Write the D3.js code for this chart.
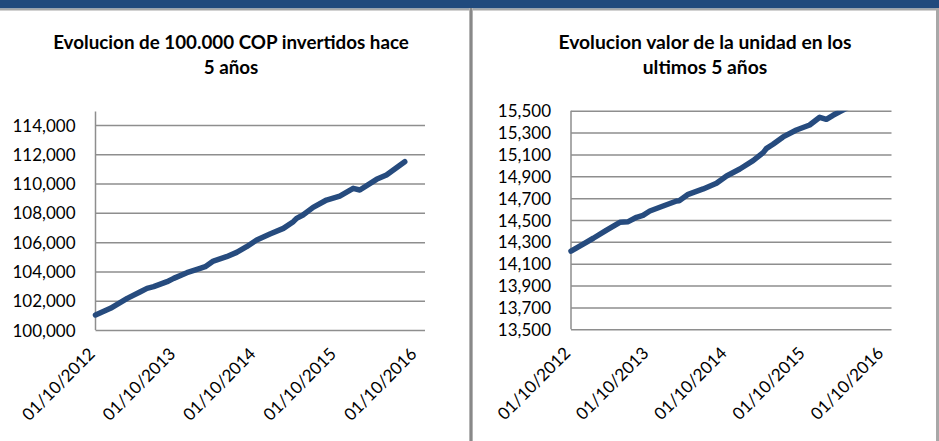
<!DOCTYPE html>
<html><head><meta charset="utf-8">
<script src="https://cdn.jsdelivr.net/npm/d3@7"></script>
<style>
html,body{margin:0;padding:0;background:#fff;}
svg{display:block;}
text{font-family:Lato,"Open Sans",sans-serif;fill:#000;}
</style></head>
<body>
<svg id="c" width="939" height="441"></svg>
<script>
// ---- DATA ----
const xTickLabels = ["01/10/2012","01/10/2013","01/10/2014","01/10/2015","01/10/2016"];
const leftTitle = ["Evolucion de 100.000 COP invertidos hace","5 años"];
const rightTitle = ["Evolucion valor de la unidad en los","ultimos 5 años"];
const leftYTicks = [100000,102000,104000,106000,108000,110000,112000,114000];
const rightYTicks = [13500,13700,13900,14100,14300,14500,14700,14900,15100,15300,15500];

const leftDates = ["2012-10-01","2012-12-08","2013-02-22","2013-04-23","2013-05-23","2013-06-22","2013-08-22","2013-09-21","2013-11-20","2014-01-19","2014-02-11","2014-03-20","2014-05-19","2014-07-04","2014-08-18","2014-10-03","2014-12-02","2015-02-01","2015-03-18","2015-04-02","2015-05-01","2015-06-16","2015-08-16","2015-10-15","2015-12-15","2016-01-14","2016-03-30","2016-05-14","2016-08-05"];
const leftValues = [101024,101480,102160,102616,102844,102958,103300,103527,103914,104210,104323,104711,105006,105302,105688,106146,106555,106942,107397,107625,107852,108376,108876,109149,109672,109560,110289,110583,111491];

const rightDates = ["2012-10-01","2012-11-27","2013-01-13","2013-03-16","2013-05-17","2013-06-25","2013-08-03","2013-09-02","2013-10-04","2013-12-05","2014-02-06","2014-02-18","2014-04-01","2014-06-10","2014-08-11","2014-09-27","2014-11-28","2015-01-29","2015-03-17","2015-04-02","2015-05-02","2015-06-18","2015-08-19","2015-10-20","2015-12-06","2016-01-06","2016-02-06","2016-03-23","2016-05-14","2016-08-05"];
const rightValues = [14216,14280,14333,14408,14479,14485,14525,14543,14582,14628,14674,14676,14735,14784,14836,14903,14967,15043,15116,15156,15193,15260,15323,15369,15440,15421,15458,15505,15560,15690];

// ---- DRAW ----
const svg = d3.select("#c");
const parse = d3.timeParse("%Y-%m-%d");
const parseTick = d3.timeParse("%d/%m/%Y");
const fmt = d3.format(",");
const blue = "#264b7e";
const grid = "#8e8e8e";

// frame
svg.append("rect").attr("x",0).attr("y",0).attr("width",939).attr("height",8.5).attr("fill","#214a7d");
svg.append("rect").attr("x",0).attr("y",8.5).attr("width",939).attr("height",2).attr("fill","#a6a6a6");
svg.append("rect").attr("x",469).attr("y",8).attr("width",4).attr("height",433).attr("fill","#b4b4b4");
svg.append("rect").attr("x",470.2).attr("y",8).attr("width",1.6).attr("height",433).attr("fill","#7f7f7f");
svg.append("rect").attr("x",936).attr("y",8).attr("width",3).attr("height",433).attr("fill","#a8a8a8");

function chart(cfg){
  const g = svg.append("g");
  const x = d3.scaleTime().domain([parse("2012-10-01"), parse("2016-11-05")]).range([cfg.x0, cfg.x1]);
  const y = d3.scaleLinear().domain(cfg.domain).range([cfg.y0, cfg.y1]);

  // title
  cfg.title.forEach((t,i)=>{
    g.append("text").attr("x",cfg.tx).attr("y",[48.5,73.5][i])
      .attr("text-anchor","middle").attr("font-weight","bold").attr("font-size",cfg.tfs).text(t);
  });

  // gridlines
  const yAxis = d3.axisLeft(y).tickValues(cfg.ticks).tickSize(-(cfg.x1-cfg.x0)).tickPadding(20).tickFormat(fmt);
  const ya = g.append("g").attr("transform",`translate(${cfg.x0},0)`).call(yAxis);
  ya.select(".domain").remove();
  ya.selectAll(".tick line").attr("stroke",grid).attr("stroke-width",1.5);
  ya.selectAll(".tick text").attr("font-size",17).attr("font-family","Lato").attr("fill","#000").attr("dy","0.36em");
  // vertical axis line
  g.append("line").attr("x1",cfg.x0).attr("x2",cfg.x0).attr("y1",cfg.axTop).attr("y2",cfg.y0)
    .attr("stroke",grid).attr("stroke-width",1.5);

  // x axis labels
  const xAxis = d3.axisBottom(x).tickValues(xTickLabels.map(parseTick)).tickSize(0).tickFormat(d3.timeFormat("%d/%m/%Y"));
  const xa = g.append("g").attr("transform",`translate(0,${cfg.y0})`).call(xAxis);
  xa.select(".domain").remove();
  xa.selectAll(".tick text").attr("font-size",17).attr("font-family","Lato").attr("fill","#000")
    .attr("text-anchor","end").attr("y",0).attr("dy",0)
    .attr("transform","translate(0,25) rotate(-45)");

  // line
  const id = "clip"+cfg.id;
  svg.append("clipPath").attr("id",id).append("rect")
    .attr("x",cfg.x0-5).attr("y",cfg.axTop).attr("width",cfg.x1-cfg.x0+10).attr("height",cfg.y0-cfg.axTop+5);
  const line = d3.line().x(d=>x(d[0])).y(d=>y(d[1])).curve(d3.curveLinear);
  g.append("path").datum(cfg.dates.map((d,i)=>[parse(d),cfg.values[i]]))
    .attr("clip-path",`url(#${id})`)
    .attr("d",line).attr("fill","none").attr("stroke",blue).attr("stroke-width",5.5)
    .attr("stroke-linejoin","round").attr("stroke-linecap","round");
}

chart({id:"L",x0:95.5,x1:425,y0:330,y1:125,axTop:111.5,domain:[100000,114000],ticks:leftYTicks,
  dates:leftDates,values:leftValues,title:leftTitle,tx:231,tfs:18.8});
chart({id:"R",x0:571,x1:891.5,y0:329.3,y1:110.7,axTop:110.7,domain:[13500,15500],ticks:rightYTicks,
  dates:rightDates,values:rightValues,title:rightTitle,tx:705,tfs:19.3});
</script>
</body></html>
